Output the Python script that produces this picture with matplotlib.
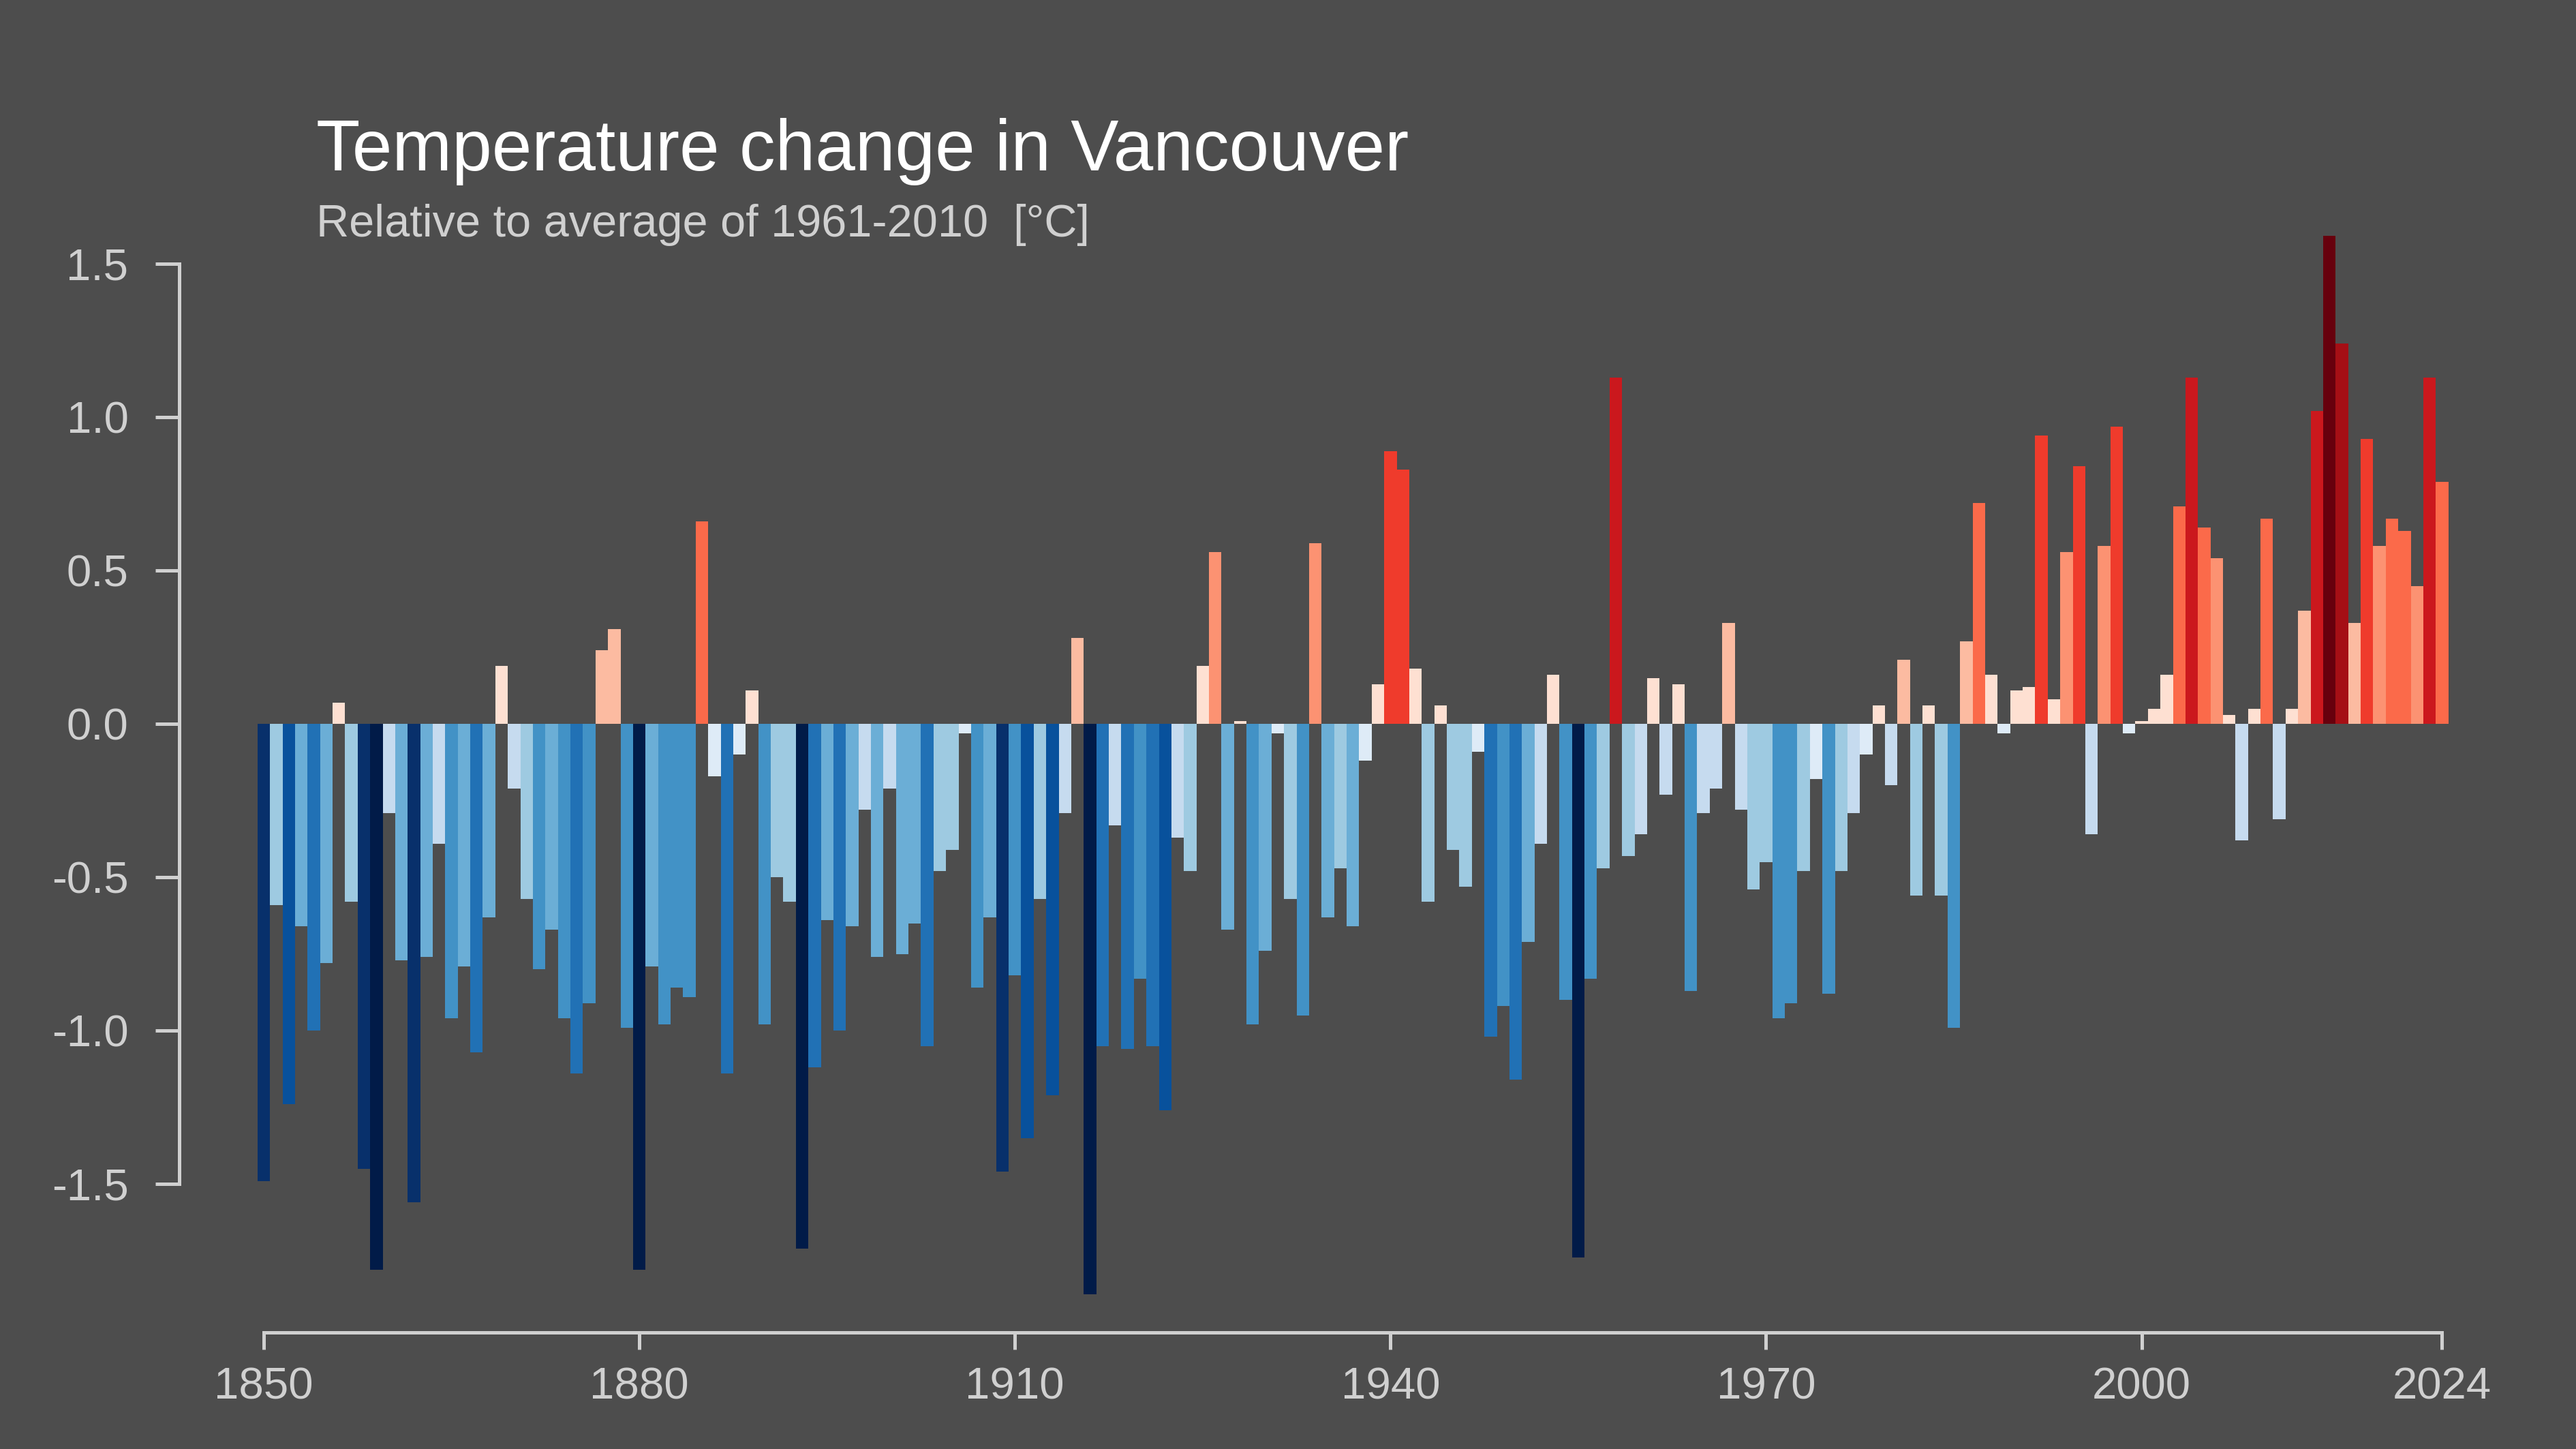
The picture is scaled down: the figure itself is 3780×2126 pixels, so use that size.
import matplotlib
matplotlib.use('Agg')
import matplotlib.pyplot as plt
import numpy as np

# yearly anomaly, 1850 - 2024
years = list(range(1850, 2025))
anomaly = [
    -1.49, -0.59, -1.24, -0.66, -1.00, -0.78, 0.07, -0.58, -1.45, -1.78,   # 1850s
    -0.29, -0.77, -1.56, -0.76, -0.39, -0.96, -0.79, -1.07, -0.63, 0.19,   # 1860s
    -0.21, -0.57, -0.80, -0.67, -0.96, -1.14, -0.91, 0.24, 0.31, -0.99,    # 1870s
    -1.78, -0.79, -0.98, -0.86, -0.89, 0.66, -0.17, -1.14, -0.10, 0.11,    # 1880s
    -0.98, -0.50, -0.58, -1.71, -1.12, -0.64, -1.00, -0.66, -0.28, -0.76,  # 1890s
    -0.21, -0.75, -0.65, -1.05, -0.48, -0.41, -0.03, -0.86, -0.63, -1.46,  # 1900s
    -0.82, -1.35, -0.57, -1.21, -0.29, 0.28, -1.86, -1.05, -0.33, -1.06,   # 1910s
    -0.83, -1.05, -1.26, -0.37, -0.48, 0.19, 0.56, -0.67, 0.01, -0.98,     # 1920s
    -0.74, -0.03, -0.57, -0.95, 0.59, -0.63, -0.47, -0.66, -0.12, 0.13,    # 1930s
    0.89, 0.83, 0.18, -0.58, 0.06, -0.41, -0.53, -0.09, -1.02, -0.92,      # 1940s
    -1.16, -0.71, -0.39, 0.16, -0.90, -1.74, -0.83, -0.47, 1.13, -0.43,    # 1950s
    -0.36, 0.15, -0.23, 0.13, -0.87, -0.29, -0.21, 0.33, -0.28, -0.54,     # 1960s
    -0.45, -0.96, -0.91, -0.48, -0.18, -0.88, -0.48, -0.29, -0.10, 0.06,   # 1970s
    -0.20, 0.21, -0.56, 0.06, -0.56, -0.99, 0.27, 0.72, 0.16, -0.03,       # 1980s
    0.11, 0.12, 0.94, 0.08, 0.56, 0.84, -0.36, 0.58, 0.97, -0.03,          # 1990s
    0.01, 0.05, 0.16, 0.71, 1.13, 0.64, 0.54, 0.03, -0.38, 0.05,           # 2000s
    0.67, -0.31, 0.05, 0.37, 1.02, 1.59, 1.24, 0.33, 0.93, 0.58,           # 2010s
    0.67, 0.63, 0.45, 1.13, 0.79,                                          # 2020s
]

title = 'Temperature change in Vancouver'
subtitle = 'Relative to average of 1961-2010  [°C]'
ytick_vals = [-1.5, -1.0, -0.5, 0.0, 0.5, 1.0, 1.5]
xtick_vals = [1850, 1880, 1910, 1940, 1970, 2000, 2024]

# stripes palette, one colour per 0.2 degree step
blues = ['#deebf7', '#c6dbef', '#9ecae1', '#6baed6', '#4292c6',
         '#2171b5', '#08519c', '#08306b', '#011b48']
reds = ['#fee0d2', '#fcbba1', '#fc9272', '#fb6a4a', '#ef3b2c',
        '#cb181d', '#a50f15', '#67000d']

def bar_colour(v):
    if v >= 0:
        i = min(int(v / 0.2), len(reds) - 1)
        return reds[i]
    i = min(int(-v / 0.2), len(blues) - 1)
    return blues[i]

colours = [bar_colour(v) for v in anomaly]

bg = '#4d4d4d'
fg = '#d0d0d0'
plt.rcParams['font.family'] = ['Liberation Sans', 'DejaVu Sans']

fig = plt.figure(figsize=(12.6, 7.0867), dpi=300, facecolor=bg)
ax = fig.add_axes([0.06958, 0.08043, 0.88135, 0.77987])
ax.set_facecolor(bg)

ax.bar(years, anomaly, width=1.0, color=colours, linewidth=0)

ax.set_xlim(1843.25, 2024.6)
ax.set_ylim(-1.984, 1.7)

# axis styling
for side in ['top', 'right']:
    ax.spines[side].set_visible(False)
ax.spines['left'].set_bounds(-1.5, 1.5)
ax.spines['bottom'].set_bounds(1850, 2024)
for side in ['left', 'bottom']:
    ax.spines[side].set_color(fg)
    ax.spines[side].set_linewidth(1.2)

ax.set_yticks(ytick_vals)
ax.set_yticklabels(['%0.1f' % v for v in ytick_vals])
ax.set_xticks(xtick_vals)
ax.set_xticklabels([str(v) for v in xtick_vals])
ax.tick_params(axis='y', colors=fg, labelsize=15.7, length=8.4, width=1.2, pad=9.5)
ax.tick_params(axis='x', colors=fg, labelsize=15.7, length=6, width=1.2, pad=6)

fig.text(0.1228, 0.8824, title, color='white', fontsize=25.3, va='baseline', ha='left')
fig.text(0.1228, 0.8368, subtitle, color=fg, fontsize=16, va='baseline', ha='left')

fig.savefig('out.png', dpi=300, facecolor=bg)
